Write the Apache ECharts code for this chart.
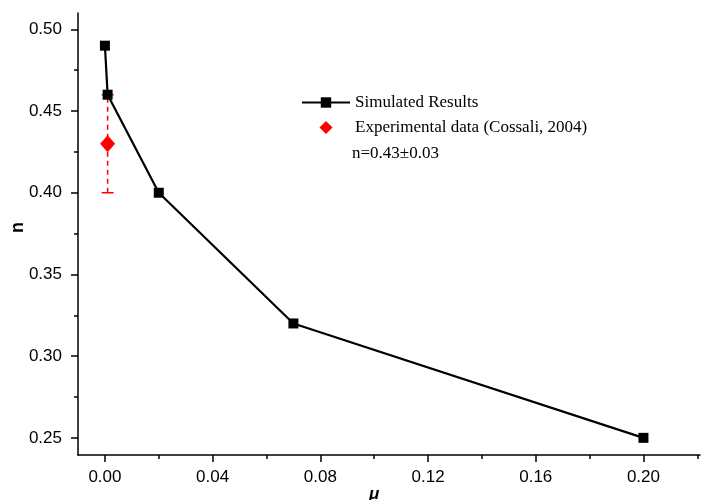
<!DOCTYPE html>
<html>
<head>
<meta charset="utf-8">
<script src="https://cdn.jsdelivr.net/npm/echarts@6/dist/echarts.min.js"></script>
<style>
  html, body { margin: 0; padding: 0; background: #fff; }
  #main { width: 702px; height: 500px; }
</style>
</head>
<body>
<div id="main"></div>
<script>
// simulated results
var muSim = [0, 0.001, 0.02, 0.07, 0.2];
var nSim = [0.49, 0.46, 0.40, 0.32, 0.25];
// experimental point with error bar
var muExp = [0.001];
var nExp = [0.43];
var nExpLow = [0.40];
var nExpHigh = [0.46];
// ticks
var xMajor = [0, 0.04, 0.08, 0.12, 0.16, 0.20];
var xMinor = [0.02, 0.06, 0.10, 0.14, 0.18, 0.22];
var yMajor = [0.25, 0.30, 0.35, 0.40, 0.45, 0.50];
var yMinor = [0.275, 0.325, 0.375, 0.425, 0.475];

var dom = document.getElementById('main');
var chart = echarts.init(dom, null, { renderer: 'canvas' });

var simData = muSim.map(function (m, i) { return [m, nSim[i]]; });
var expData = muExp.map(function (m, i) { return [m, nExp[i]]; });
var errData = muExp.map(function (m, i) { return [m, nExpLow[i], nExpHigh[i]]; });

var xRange = { min: -0.01, max: 0.221 };
var yRange = { min: 0.2395, max: 0.51 };
var fmt = function (v) { return v.toFixed(2); };

var option = {
  animation: false,
  grid: { left: 78, top: 13, right: 2, bottom: 45 },
  legend: {
    orient: 'vertical',
    left: 296,
    top: 89,
    itemWidth: 48,
    itemHeight: 13,
    itemGap: 8,
    symbolKeepAspect: true,
    textStyle: { fontFamily: 'Liberation Serif, Times New Roman', fontSize: 17, color: '#000' },
    data: [
      { name: 'Simulated Results' },
      { name: 'Experimental data (Cossali, 2004)', icon: 'path://M0,-1L1,0L0,1L-1,0Z' }
    ]
  },
  graphic: [
    { type: 'text', left: 352, top: 145,
      style: { text: 'n=0.43\u00b10.03', font: '17px "Liberation Serif", "Times New Roman"', fill: '#000' } },
    { type: 'text', left: 9, top: 222, rotation: Math.PI / 2,
      style: { text: 'n', font: 'bold 18px "Liberation Sans", Arial', fill: '#000' } },
    { type: 'text', left: 369, top: 486,
      style: { text: '\u03bc', font: 'italic bold 17px "Liberation Sans", Arial', fill: '#000' } }
  ],
  xAxis: [{
    type: 'value', min: xRange.min, max: xRange.max,
    axisLine: { onZero: false, lineStyle: { color: '#000', width: 1.5 } },
    axisTick: { show: true, customValues: xMajor, length: 7, lineStyle: { color: '#000', width: 1.5 } },
    axisLabel: { customValues: xMajor, margin: 14, formatter: fmt,
      fontFamily: 'Liberation Sans, Arial', fontSize: 17, color: '#000' },
    splitLine: { show: false }
  }, {
    type: 'value', min: xRange.min, max: xRange.max, position: 'bottom',
    axisLine: { show: false, onZero: false },
    axisTick: { show: true, customValues: xMinor, length: 4, lineStyle: { color: '#000', width: 1.5 } },
    axisLabel: { show: false },
    splitLine: { show: false }
  }],
  yAxis: [{
    type: 'value', min: yRange.min, max: yRange.max,
    axisLine: { show: true, onZero: false, lineStyle: { color: '#000', width: 1.5 } },
    axisTick: { show: true, customValues: yMajor, length: 7, lineStyle: { color: '#000', width: 1.5 } },
    axisLabel: { customValues: yMajor, margin: 16, formatter: fmt,
      fontFamily: 'Liberation Sans, Arial', fontSize: 17, color: '#000' },
    splitLine: { show: false }
  }, {
    type: 'value', min: yRange.min, max: yRange.max, position: 'left',
    axisLine: { show: false, onZero: false },
    axisTick: { show: true, customValues: yMinor, length: 4, lineStyle: { color: '#000', width: 1.5 } },
    axisLabel: { show: false },
    splitLine: { show: false }
  }],
  series: [{
    name: 'Simulated Results',
    type: 'line',
    data: simData,
    symbol: 'rect',
    symbolSize: 10,
    itemStyle: { color: '#000' },
    lineStyle: { color: '#000', width: 2.2 },
    z: 3
  }, {
    name: 'error',
    type: 'custom',
    data: errData,
    renderItem: function (params, api) {
      var x = api.value(0);
      var lo = api.coord([x, api.value(1)]);
      var hi = api.coord([x, api.value(2)]);
      var style = { stroke: '#ff0000', lineWidth: 1.5 };
      return {
        type: 'group',
        children: [
          { type: 'line', shape: { x1: lo[0], y1: lo[1], x2: hi[0], y2: hi[1] },
            style: { stroke: '#ff0000', lineWidth: 1.5, lineDash: [5, 4] } },
          { type: 'line', shape: { x1: lo[0] - 6, y1: lo[1], x2: lo[0] + 6, y2: lo[1] }, style: style },
          { type: 'line', shape: { x1: hi[0] - 6, y1: hi[1], x2: hi[0] + 6, y2: hi[1] }, style: style }
        ]
      };
    },
    z: 2
  }, {
    name: 'Experimental data (Cossali, 2004)',
    type: 'scatter',
    data: expData,
    symbol: 'diamond',
    symbolSize: [15, 17],
    itemStyle: { color: '#ff0000', opacity: 1 },
    z: 4
  }]
};

chart.setOption(option);
window.addEventListener('resize', chart.resize);
</script>
</body>
</html>
